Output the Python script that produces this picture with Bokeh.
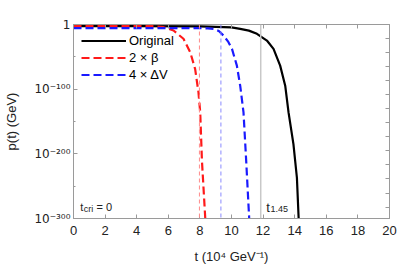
import numpy as np
from bokeh.plotting import figure
from bokeh.models import (Range1d, LinearAxis, FixedTicker, CustomJSTickFormatter,
                          Legend, LegendItem, Span, Label)
from bokeh.embed import file_html
from bokeh.resources import INLINE

# ---- data (log10 of p(t) in GeV) ----
orig_t = [0, 4, 8, 10, 10.55, 11.1, 11.61, 12.24, 12.66, 13.08, 13.40, 13.61, 13.92, 14.14, 14.25]
orig_L = [-2.6, -2.6, -3.0, -4.5, -6.7, -9.5, -14.4, -24.8, -37.7, -63.6, -94.6, -136, -185, -237, -300]

beta_t = [0, 3, 5, 5.70, 6.33, 6.96, 7.39, 7.70, 7.91, 8.02, 8.13, 8.34]
beta_L = [-2.0, -2.0, -2.6, -4.2, -9.3, -22, -43, -69, -105, -136, -211, -300]

dv_t = [0, 4, 8.0, 8.5, 8.86, 9.2, 9.49, 9.8, 10.03, 10.34, 10.55, 10.76, 10.93, 11.12]
dv_L = [-5.6, -5.6, -5.7, -6.0, -6.9, -10, -17, -27, -37.7, -63.6, -94.6, -136, -211, -300]

vline_t = [7.97, 9.33, 11.85]       # 2xbeta marker, 4xdV marker, t_1.45

x_ticks = list(range(0, 21, 2))
y_ticks = [-300, -200, -100, 0]
y_minor = [-250, -150, -50]
y_tick_labels = {0: "1", -100: "10\u207b\u00b9\u2070\u2070", -200: "10\u207b\u00b2\u2070\u2070",
                 -300: "10\u207b\u00b3\u2070\u2070"}
right_ticks = [-50 * k / np.log(10) for k in range(1, 14)]

legend_labels = ["Original", "2 \u00d7 \u03b2", "4 \u00d7 \u0394V"]

FONT = "Liberation Sans"
FRAME = "#9a9a9a"
TXT = "#222222"

p = figure(width=398, height=268, output_backend="svg", toolbar_location=None,
           x_range=Range1d(0, 20), y_range=Range1d(-300, 0),
           min_border_left=73, min_border_right=9, min_border_top=24, min_border_bottom=50)
p.xgrid.visible = False
p.ygrid.visible = False
p.outline_line_color = FRAME
p.background_fill_color = "white"
p.border_fill_color = "white"

def style_axis(ax):
    ax.axis_line_color = FRAME
    ax.major_tick_line_color = FRAME
    ax.minor_tick_line_color = FRAME
    ax.major_tick_in = 4
    ax.major_tick_out = 0
    ax.minor_tick_in = 2
    ax.minor_tick_out = 0
    ax.major_label_text_font = FONT
    ax.major_label_text_font_size = "13px"
    ax.major_label_text_color = TXT
    ax.axis_label_text_font = FONT
    ax.axis_label_text_font_size = "13px"
    ax.axis_label_text_font_style = "normal"
    ax.axis_label_text_color = TXT

xa = p.xaxis[0]
xa.ticker = FixedTicker(ticks=x_ticks, minor_ticks=[])
style_axis(xa)
xa.major_label_standoff = 7
xa.axis_label = "t (10\u2074 GeV\u207b\u00b9)"
xa.axis_label_standoff = 11

ya = p.yaxis[0]
ya.ticker = FixedTicker(ticks=y_ticks, minor_ticks=y_minor)
style_axis(ya)
ya.major_label_text_font = "DejaVu Sans"
ya.major_label_text_font_size = "12px"
ya.major_label_overrides = y_tick_labels
ya.major_label_standoff = 3
ya.axis_label = "p(t) (GeV)"
ya.axis_label_standoff = 12

empty = CustomJSTickFormatter(code="return ''")
top = LinearAxis(ticker=FixedTicker(ticks=x_ticks, minor_ticks=[]), formatter=empty)
style_axis(top)
p.add_layout(top, "above")
right = LinearAxis(ticker=FixedTicker(ticks=right_ticks, minor_ticks=[]), formatter=empty)
style_axis(right)
p.add_layout(right, "right")

# vertical markers
p.add_layout(Span(location=vline_t[0], dimension="height", line_color="#ff8a8a",
                  line_width=1, line_dash="4 3"))
p.add_layout(Span(location=vline_t[1], dimension="height", line_color="#8a8aff",
                  line_width=1, line_dash="4 3"))
p.add_layout(Span(location=vline_t[2], dimension="height", line_color="#c8c8c8",
                  line_width=1.5))

r1 = p.line(orig_t, orig_L, line_color="black", line_width=2.2)
r2 = p.line(beta_t, beta_L, line_color="#ff1a1a", line_width=2.2, line_dash="8 4")
r3 = p.line(dv_t, dv_L, line_color="#1a1aff", line_width=2.2, line_dash="8 4")

leg = Legend(items=[LegendItem(label=legend_labels[0], renderers=[r1]),
                    LegendItem(label=legend_labels[1], renderers=[r2]),
                    LegendItem(label=legend_labels[2], renderers=[r3])],
             location="top_left", margin=8, padding=0, spacing=0,
             glyph_width=45, glyph_height=17, label_height=17, label_standoff=3,
             label_text_font=FONT, label_text_font_size="13px", label_text_color="black",
             border_line_alpha=0, background_fill_alpha=0)
p.add_layout(leg)

def lab(x, y, text, size):
    p.add_layout(Label(x=x, y=y, text=text, text_font=FONT, text_font_size=size,
                       text_color=TXT, text_baseline="alphabetic", text_align="left"))

lab(0.42, -282.5, "t", "11px")
lab(0.65, -285.5, "cri", "9px")
lab(1.45, -282.5, "= 0", "11px")
lab(12.2, -282.5, "t", "13px")
lab(12.47, -285, "1.45", "9px")

open("out.html", "w").write(file_html(p, INLINE))
